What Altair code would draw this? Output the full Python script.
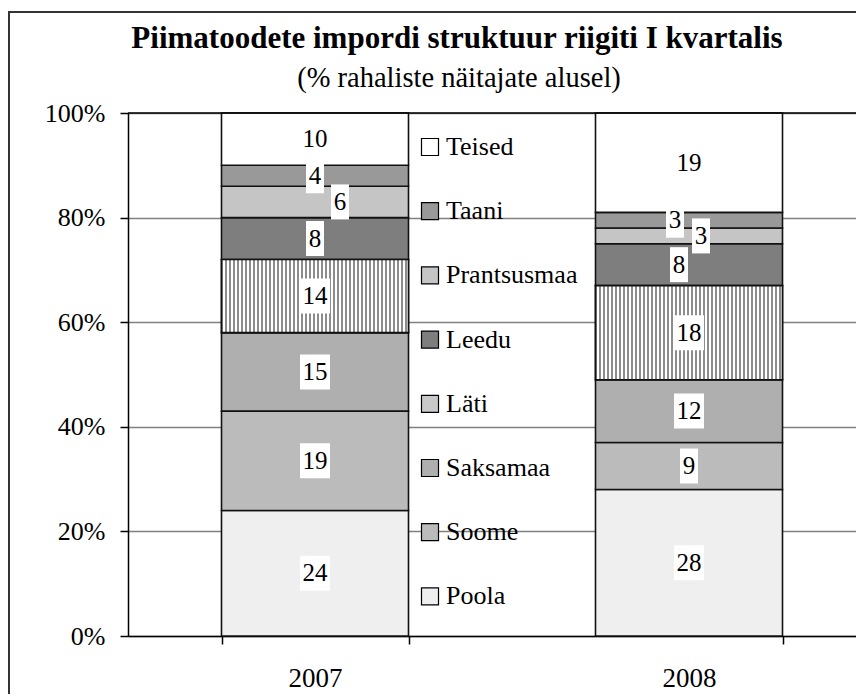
import altair as alt
import pandas as pd

years = ["2007", "2008"]
countries = ["Poola", "Soome", "Saksamaa", "Läti", "Leedu", "Prantsusmaa", "Taani", "Teised"]
share_2007 = [24, 19, 15, 14, 8, 6, 4, 10]
share_2008 = [28, 9, 12, 18, 8, 3, 3, 19]
fills = ["#efefef", "#bbbbbb", "#afafaf", "#c9c9c9", "#7e7e7e", "#c5c5c5", "#999999", "#ffffff"]
y_ticks = [0, 20, 40, 60, 80, 100]
title_text = "Piimatoodete impordi struktuur riigiti I kvartalis"
subtitle_text = "(% rahaliste näitajate alusel)"

# sideways nudges (px) of the labels that Excel moved off-centre
label_nudge = {("2007", "Prantsusmaa"): 25, ("2008", "Taani"): -14,
               ("2008", "Prantsusmaa"): 12, ("2008", "Leedu"): -10}

rows = []
for year, shares in zip(years, [share_2007, share_2008]):
    base = 0
    for i, (c, v) in enumerate(zip(countries, shares)):
        rows.append(dict(year=year, country=c, share=v, order=i, y0=base, y1=base + v,
                         mid=base + v / 2, label=str(v),
                         nudge=label_nudge.get((year, c), 0), ndig=len(str(v))))
        base += v
df = pd.DataFrame(rows)

FONT = "Liberation Serif, Times New Roman, serif"

x_scale = alt.Scale(domain=years, paddingInner=0.5, paddingOuter=0.25)
x_axis = alt.Axis(title=None, labelAngle=0, tickBand="extent", tickSize=8, tickColor="black",
                  tickWidth=1.5, domainColor="black", domainWidth=1.5, labelFont=FONT,
                  labelFontSize=27, labelColor="black", labelPadding=21, grid=False)
y_scale = alt.Scale(domain=[0, 100], nice=False)
y_axis = alt.Axis(title=None, values=y_ticks, labelExpr="datum.value + '%'", tickSize=8,
                  tickColor="black", tickWidth=1.5, domainColor="black", domainWidth=1.5,
                  gridColor="#808080", gridWidth=1.5, labelFont=FONT, labelFontSize=26,
                  labelColor="black", labelPadding=15)

X = alt.X("year:N", scale=x_scale, axis=x_axis)

bars = alt.Chart(df).mark_bar(stroke="#111111", strokeWidth=1.6).encode(
    x=X,
    y=alt.Y("y0:Q", scale=y_scale, axis=y_axis),
    y2="y1:Q",
    color=alt.Color("country:N",
                    scale=alt.Scale(domain=countries[::-1], range=fills[::-1]),
                    legend=alt.Legend(title=None, orient="none", legendX=289, legendY=21,
                                      symbolType="square", symbolSize=289,
                                      symbolStrokeColor="black", symbolStrokeWidth=1.2,
                                      labelFont=FONT, labelFontSize=26, labelColor="black",
                                      rowPadding=38.2, labelOffset=3, padding=0)),
)

# vertical stripes for Läti
n_str = 47
stops = []
for k in range(n_str):
    a = k / n_str
    m = (k + 0.5) / n_str
    b = min((k + 1) / n_str, 1.0)
    stops += [alt.GradientStop(offset=a, color="#8c8c8c"),
              alt.GradientStop(offset=m, color="#8c8c8c"),
              alt.GradientStop(offset=m, color="#ffffff"),
              alt.GradientStop(offset=b, color="#ffffff")]
stripes = alt.LinearGradient(gradient="linear", stops=stops, x1=0, x2=1, y1=0, y2=0)

lati = alt.Chart(df).transform_filter(alt.datum.country == "Läti").mark_bar(
    fill=stripes, stroke="#111111", strokeWidth=1.6).encode(
    x=X, y=alt.Y("y0:Q", scale=y_scale), y2="y1:Q")

top_rule = alt.Chart(pd.DataFrame({"v": [100]})).mark_rule(color="black", strokeWidth=1.5).encode(
    y=alt.Y("v:Q", scale=y_scale))

box_layers = []
S = 10.0
for (nd, ng) in sorted(set(zip(df["nudge"].tolist(), df["ndig"].tolist()))):
    hw = 9 if ng == 1 else 15
    hh = 17.5
    path = f"M{(nd - hw) / S},{-hh / S}H{(nd + hw) / S}V{hh / S}H{(nd - hw) / S}Z"
    box_layers.append(
        alt.Chart(df).transform_filter((alt.datum.nudge == int(nd)) & (alt.datum.ndig == int(ng)))
        .mark_point(shape=path, size=400, filled=True, fill="white", opacity=1, strokeWidth=0)
        .encode(x=X, y=alt.Y("mid:Q", scale=y_scale))
    )

text_layers = []
for nd in sorted(set(df["nudge"].tolist())):
    text_layers.append(
        alt.Chart(df).transform_filter(alt.datum.nudge == int(nd))
        .mark_text(dx=int(nd), font=FONT, fontSize=25, color="black", baseline="middle")
        .encode(x=X, y=alt.Y("mid:Q", scale=y_scale), text="label:N")
    )

one = pd.DataFrame({"a": [0]})
frame = alt.Chart(one).mark_rect(filled=False, stroke="#333333", strokeWidth=2).encode(
    x=alt.value(-119), x2=alt.value(780), y=alt.value(-101), y2=alt.value(640))
title = alt.Chart(one).mark_text(text=title_text, font=FONT, fontSize=31, fontWeight="bold",
                                 color="black", align="center", baseline="alphabetic").encode(
    x=alt.value(329), y=alt.value(-65))
subtitle = alt.Chart(one).mark_text(text=subtitle_text, font=FONT, fontSize=28.5,
                                    color="black", align="center", baseline="alphabetic").encode(
    x=alt.value(331), y=alt.value(-26))

chart = alt.layer(frame, bars, lati, top_rule, *box_layers, *text_layers, title, subtitle).properties(
    width=748, height=523,
    padding={"left": 120, "top": 105, "right": -20, "bottom": 58},
    autosize=alt.AutoSizeParams(type="none"),
    background="white",
).configure_view(stroke=None)

chart.save("out.html", embed_options={"renderer": "svg", "actions": False})
